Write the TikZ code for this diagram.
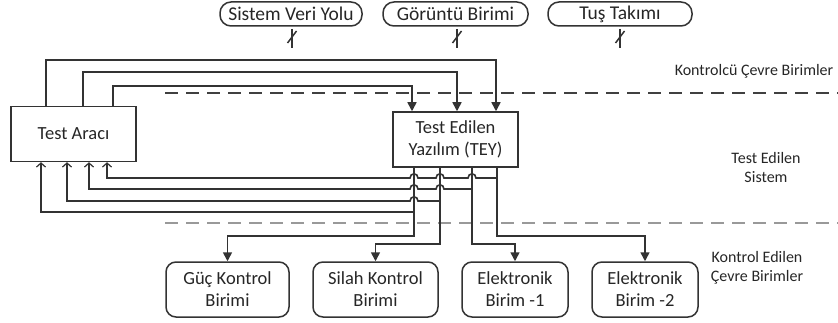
\documentclass[tikz,border=0pt]{standalone}
\usepackage{fontspec}
\setmainfont{Carlito}
\usetikzlibrary{arrows.meta}
\tikzset{
  box/.style={draw=black!80, line width=1.5pt, minimum width=125pt, minimum height=55pt,
    align=center, inner sep=0pt, font=\fontsize{18.5}{22}\selectfont, text=black!85},
  rbox/.style={box, rounded corners=10pt},
  pill/.style={draw=black!80, line width=1.5pt, rounded corners=11pt, minimum height=24pt,
    inner sep=0pt, font=\fontsize{19.5}{22}\selectfont, text=black!85},
  lbl/.style={align=center, font=\fontsize{16}{19}\selectfont, text=black!85},
  wire/.style={draw=black!80, line width=1.6pt},
  arr/.style={wire, -{Triangle[length=9pt,width=9pt]}},
  farr/.style={wire, -{Straight Barb[length=4pt,width=9pt,line width=1.2pt]}},
  sepa/.style={draw=black!75, line width=1.5pt, dash pattern=on 13pt off 8pt},
  sepb/.style={draw=black!40, line width=2.5pt, dash pattern=on 13pt off 8pt},
  bus/.style={draw=black!80, line width=1.5pt}
}
\begin{document}
\begin{tikzpicture}[x=1pt,y=-1pt]
\useasboundingbox (0,0) rectangle (838,323);

% separators
\draw[sepa] (165,93) -- (838,93);
\draw[sepb] (165,223) -- (838,223);

% top peripherals
\node[pill, minimum width=142pt] (svy) at (291,14) {Sistem Veri Yolu};
\node[pill, minimum width=145pt] (gb) at (455.5,14) {Görüntü Birimi};
\node[pill, minimum width=144pt] (tt) at (620,14) {Tuş Takımı};

% bus stubs with slash
\foreach \x in {292,457,620}{
  \draw[bus] (\x,29) -- (\x,48);
  \draw[bus] (\x-4.5,43) -- (\x+4.5,31);
}

% main boxes
\node[box] (ta) at (73.5,134) {Test Aracı};
\node[box] (tey) at (455.5,139.5) {Test Edilen\\Yazılım (TEY)};

% bottom units
\node[rbox, minimum width=123pt] (gk) at (227.5,289.5) {Güç Kontrol\\Birimi};
\node[rbox, minimum width=125pt] (sk) at (375.5,289.5) {Silah Kontrol\\Birimi};
\node[rbox, minimum width=106pt] (e1) at (515,289.5) {Elektronik\\Birim -1};
\node[rbox, minimum width=106pt] (e2) at (645,289.5) {Elektronik\\Birim -2};

% right labels
\node[lbl] (l1) at (754,71) {Kontrolcü Çevre Birimler};
\node[lbl] (l2) at (766,168) {Test Edilen\\Sistem};
\node[lbl] (l3) at (757,268) {Kontrol Edilen\\Çevre Birimler};

% column coordinates
\coordinate (u1) at (46,0);
\coordinate (u2) at (83,0);
\coordinate (u3) at (113,0);
\coordinate (w1) at (412,0);
\coordinate (w2) at (457,0);
\coordinate (w3) at (496,0);
\coordinate (c1) at (41,0);
\coordinate (c2) at (67,0);
\coordinate (c3) at (89,0);
\coordinate (c4) at (107,0);
\coordinate (v1) at (414,0);
\coordinate (v2) at (440,0);
\coordinate (v3) at (472,0);
\coordinate (v4) at (497,0);

% Test Araci -> TEY
\draw[arr] (ta.north -| u1) |- (496,60) -- (tey.north -| w3);
\draw[arr] (ta.north -| u2) |- (457,72) -- (tey.north -| w2);
\draw[arr] (ta.north -| u3) |- (412,86) -- (tey.north -| w1);

% TEY -> controlled units
\draw[arr] (tey.south -| v1) -- (414,236) -- (227.5,236) -- (gk.north);
\draw[arr] (tey.south -| v2) -- (440,244) -- (375.5,244) -- (sk.north);
\draw[arr] (tey.south -| v3) -- (472,244) -- (515,244) -- (e1.north);
\draw[arr] (tey.south -| v4) -- (497,236) -- (645,236) -- (e2.north);

% feedback to Test Araci (with hops)
\draw[farr] (497,178) -- (476,178) .. controls (476,172.5) and (468,172.5) .. (468,178)
  -- (444,178) .. controls (444,172.5) and (436,172.5) .. (436,178)
  -- (418,178) .. controls (418,172.5) and (410,172.5) .. (410,178)
  -- (107,178) -- (ta.south -| c4);
\draw[farr] (472,189) -- (444,189) .. controls (444,183.5) and (436,183.5) .. (436,189)
  -- (418,189) .. controls (418,183.5) and (410,183.5) .. (410,189)
  -- (89,189) -- (ta.south -| c3);
\draw[farr] (440,201) -- (418,201) .. controls (418,195.5) and (410,195.5) .. (410,201)
  -- (67,201) -- (ta.south -| c2);
\draw[farr] (414,212) -- (41,212) -- (ta.south -| c1);
\end{tikzpicture}
\end{document}
